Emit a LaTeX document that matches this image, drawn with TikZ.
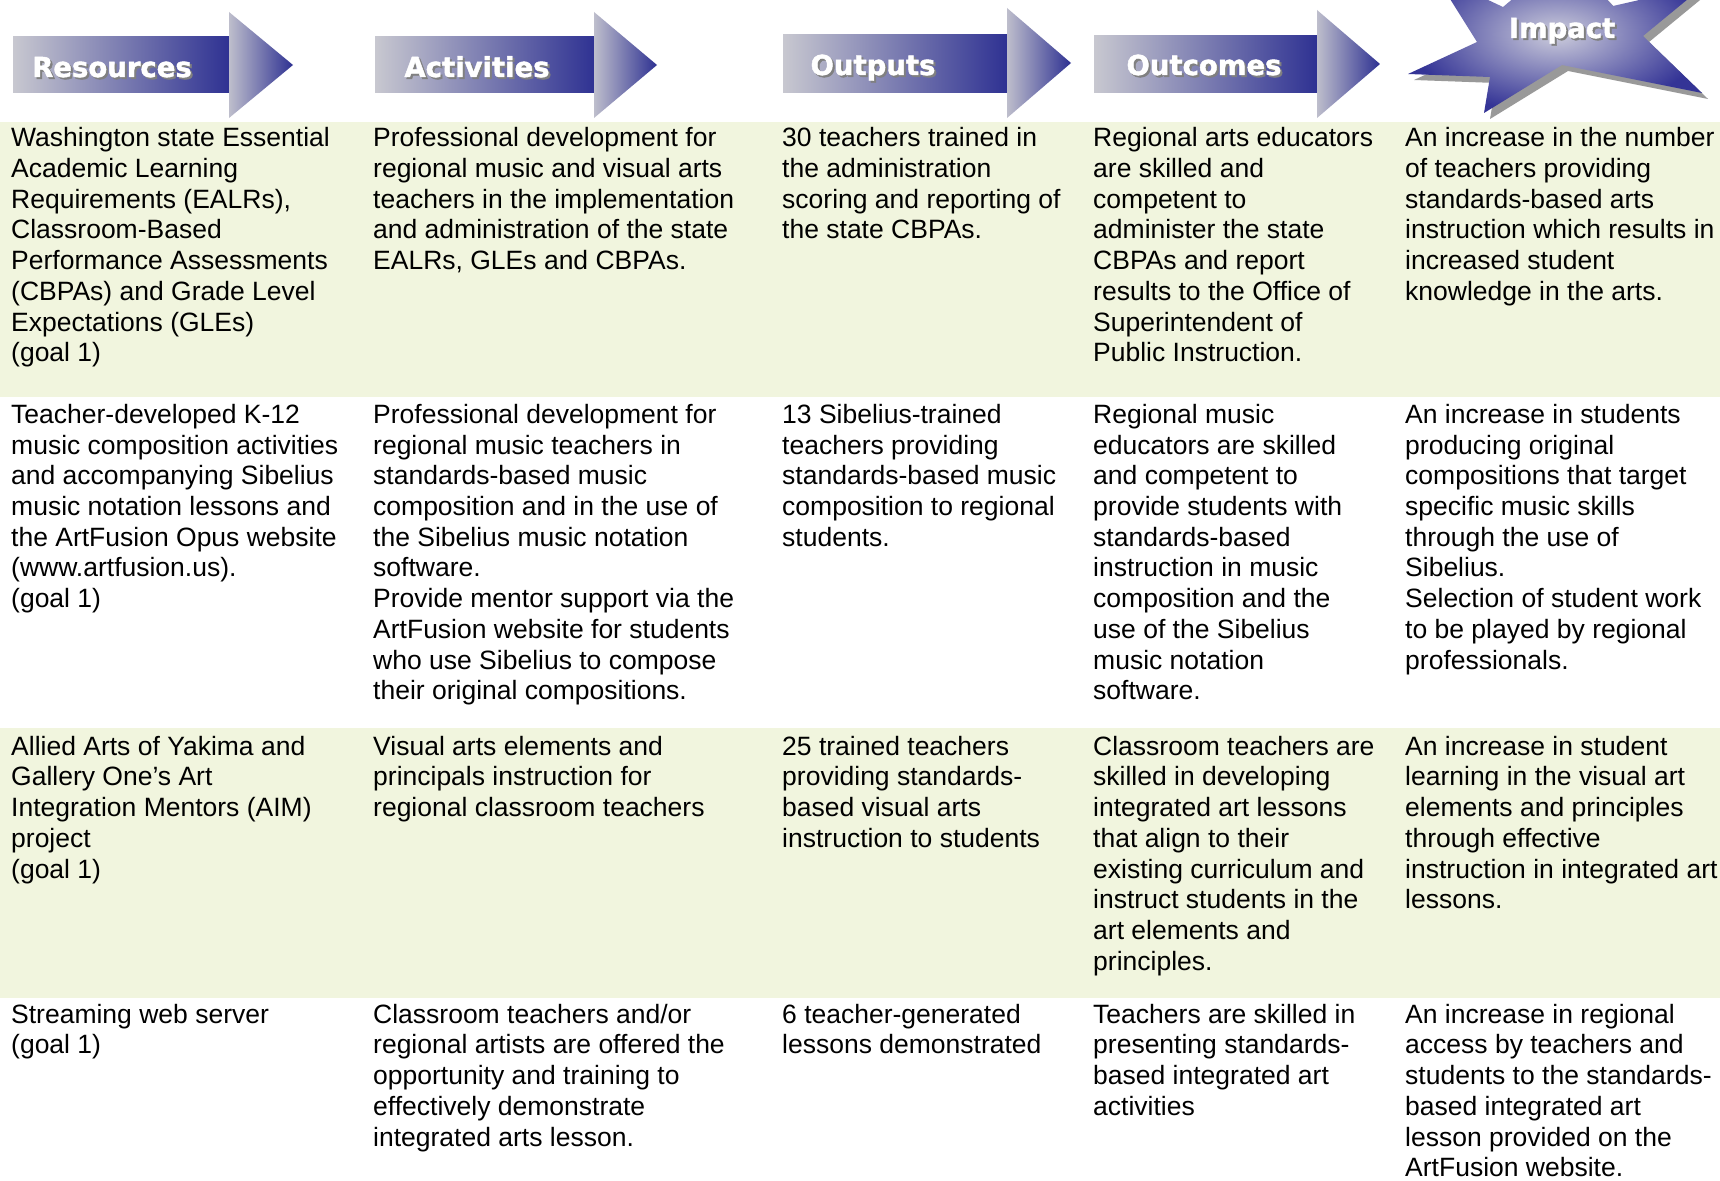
\documentclass[tikz,border=0pt]{standalone}
\usepackage{fontspec}
\setmainfont{Liberation Sans}
\newfontfamily\headfont{DejaVu Sans}[BoldFeatures={FakeBold=1.6}]
\definecolor{bandgreen}{RGB}{241,245,222}
\definecolor{arrowlight}{RGB}{200,200,208}
\definecolor{arrowdark}{RGB}{46,49,146}
\definecolor{headlight}{RGB}{190,190,204}
\definecolor{starlight}{RGB}{205,205,220}
\definecolor{starblue}{RGB}{52,52,150}
\newcommand\cellfont{\fontsize{26.5}{30.7}\selectfont}
\newcommand\impactstarpath{(1408,74) -- (1490,77) -- (1484,113) -- (1562,65) -- (1702,93) -- (1643,36) -- (1705,-15) -- (1613,6) -- (1565,-45) -- (1503,7) -- (1435,-25) -- (1477,42) -- cycle}
\begin{document}
\begin{tikzpicture}[x=1pt,y=-1pt,
  cell/.style={anchor=north west, inner sep=0pt, align=left, font=\cellfont, text=black},
  headtext/.style={anchor=base, inner sep=0pt, font=\headfont\bfseries\fontsize{27.5}{30}\selectfont, text=white},
  headshadow/.style={anchor=base, inner sep=0pt, font=\headfont\bfseries\fontsize{27.5}{30}\selectfont, text=black!50},
  arrowbody/.style={left color=arrowlight, right color=arrowdark, draw=none},
  arrowhead/.style={left color=headlight, right color=arrowdark, draw=none}]
\useasboundingbox (0,0) rectangle (1720,1180);
\fill[white] (0,0) rectangle (1720,1180);
% bands
\fill[bandgreen] (0,122) rectangle (1720,397);
\fill[bandgreen] (0,728) rectangle (1720,998);
% arrows
\shade[arrowbody] (13,37) rectangle (230,93);
\shade[arrowhead] (229,12) -- (293,65) -- (229,118) -- cycle;
\shade[arrowbody] (375,37) rectangle (596,93);
\shade[arrowhead] (594,12) -- (657,65) -- (594,118) -- cycle;
\shade[arrowbody] (783,35) rectangle (1008,93);
\shade[arrowhead] (1007,8) -- (1071,63) -- (1007,118) -- cycle;
\shade[arrowbody] (1094,36) rectangle (1318,93);
\shade[arrowhead] (1317,10) -- (1380,64) -- (1317,118) -- cycle;
% star
\begin{scope}
\clip (0,0) rectangle (1720,1180);
\fill[black!40, shift={(6,6)}] \impactstarpath;
\shade[inner color=starlight, outer color=starblue] \impactstarpath;
\end{scope}
% header texts
\node[headshadow] (hs1) at (114,79) {Resources};
\node[headtext] (h1) at (112,77) {Resources};
\node[headshadow] (hs2) at (479,79) {Activities};
\node[headtext] (h2) at (477,77) {Activities};
\node[headshadow] (hs3) at (875,77) {Outputs};
\node[headtext] (h3) at (873,75) {Outputs};
\node[headshadow] (hs4) at (1206,77) {Outcomes};
\node[headtext] (h4) at (1204,75) {Outcomes};
\node[headshadow] (hs5) at (1564,40) {Impact};
\node[headtext] (h5) at (1562,38) {Impact};
% row 1 (baseline 146.7)
\node[cell] (r1c1) at (11,125.2) {\strut Washington state Essential\\Academic Learning\\Requirements (EALRs),\\Classroom-Based\\Performance Assessments\\(CBPAs) and Grade Level\\Expectations (GLEs)\\(goal 1)};
\node[cell] (r1c2) at (373,125.2) {\strut Professional development for\\regional music and visual arts\\teachers in the implementation\\and administration of the state\\EALRs, GLEs and CBPAs.};
\node[cell] (r1c3) at (782,125.2) {\strut 30 teachers trained in\\the administration\\scoring and reporting of\\the state CBPAs.};
\node[cell] (r1c4) at (1093,125.2) {\strut Regional arts educators\\are skilled and\\competent to\\administer the state\\CBPAs and report\\results to the Office of\\Superintendent of\\Public Instruction.};
\node[cell] (r1c5) at (1405,125.2) {\strut An increase in the number\\of teachers providing\\standards-based arts\\instruction which results in\\increased student\\knowledge in the arts.};
% row 2 (baseline 423.3)
\node[cell] (r2c1) at (11,401.8) {\strut Teacher-developed K-12\\music composition activities\\and accompanying Sibelius\\music notation lessons and\\the ArtFusion Opus website\\(www.artfusion.us).\\(goal 1)};
\node[cell] (r2c2) at (373,401.8) {\strut Professional development for\\regional music teachers in\\standards-based music\\composition and in the use of\\the Sibelius music notation\\software.\\Provide mentor support via the\\ArtFusion website for students\\who use Sibelius to compose\\their original compositions.};
\node[cell] (r2c3) at (782,401.8) {\strut 13 Sibelius-trained\\teachers providing\\standards-based music\\composition to regional\\students.};
\node[cell] (r2c4) at (1093,401.8) {\strut Regional music\\educators are skilled\\and competent to\\provide students with\\standards-based\\instruction in music\\composition and the\\use of the Sibelius\\music notation\\software.};
\node[cell] (r2c5) at (1405,401.8) {\strut An increase in students\\producing original\\compositions that target\\specific music skills\\through the use of\\Sibelius.\\Selection of student work\\to be played by regional\\professionals.};
% row 3 (baseline 755)
\node[cell] (r3c1) at (11,733.5) {\strut Allied Arts of Yakima and\\Gallery One’s Art\\Integration Mentors (AIM)\\project\\(goal 1)};
\node[cell] (r3c2) at (373,733.5) {\strut Visual arts elements and\\principals instruction for\\regional classroom teachers};
\node[cell] (r3c3) at (782,733.5) {\strut 25 trained teachers\\providing standards-\\based visual arts\\instruction to students};
\node[cell] (r3c4) at (1093,733.5) {\strut Classroom teachers are\\skilled in developing\\integrated art lessons\\that align to their\\existing curriculum and\\instruct students in the\\art elements and\\principles.};
\node[cell] (r3c5) at (1405,733.5) {\strut An increase in student\\learning in the visual art\\elements and principles\\through effective\\instruction in integrated art\\lessons.};
% row 4 (baseline 1023)
\node[cell] (r4c1) at (11,1001.5) {\strut Streaming web server\\(goal 1)};
\node[cell] (r4c2) at (373,1001.5) {\strut Classroom teachers and/or\\regional artists are offered the\\opportunity and training to\\effectively demonstrate\\integrated arts lesson.};
\node[cell] (r4c3) at (782,1001.5) {\strut 6 teacher-generated\\lessons demonstrated};
\node[cell] (r4c4) at (1093,1001.5) {\strut Teachers are skilled in\\presenting standards-\\based integrated art\\activities};
\node[cell] (r4c5) at (1405,1001.5) {\strut An increase in regional\\access by teachers and\\students to the standards-\\based integrated art\\lesson provided on the\\ArtFusion website.};
\end{tikzpicture}
\end{document}
